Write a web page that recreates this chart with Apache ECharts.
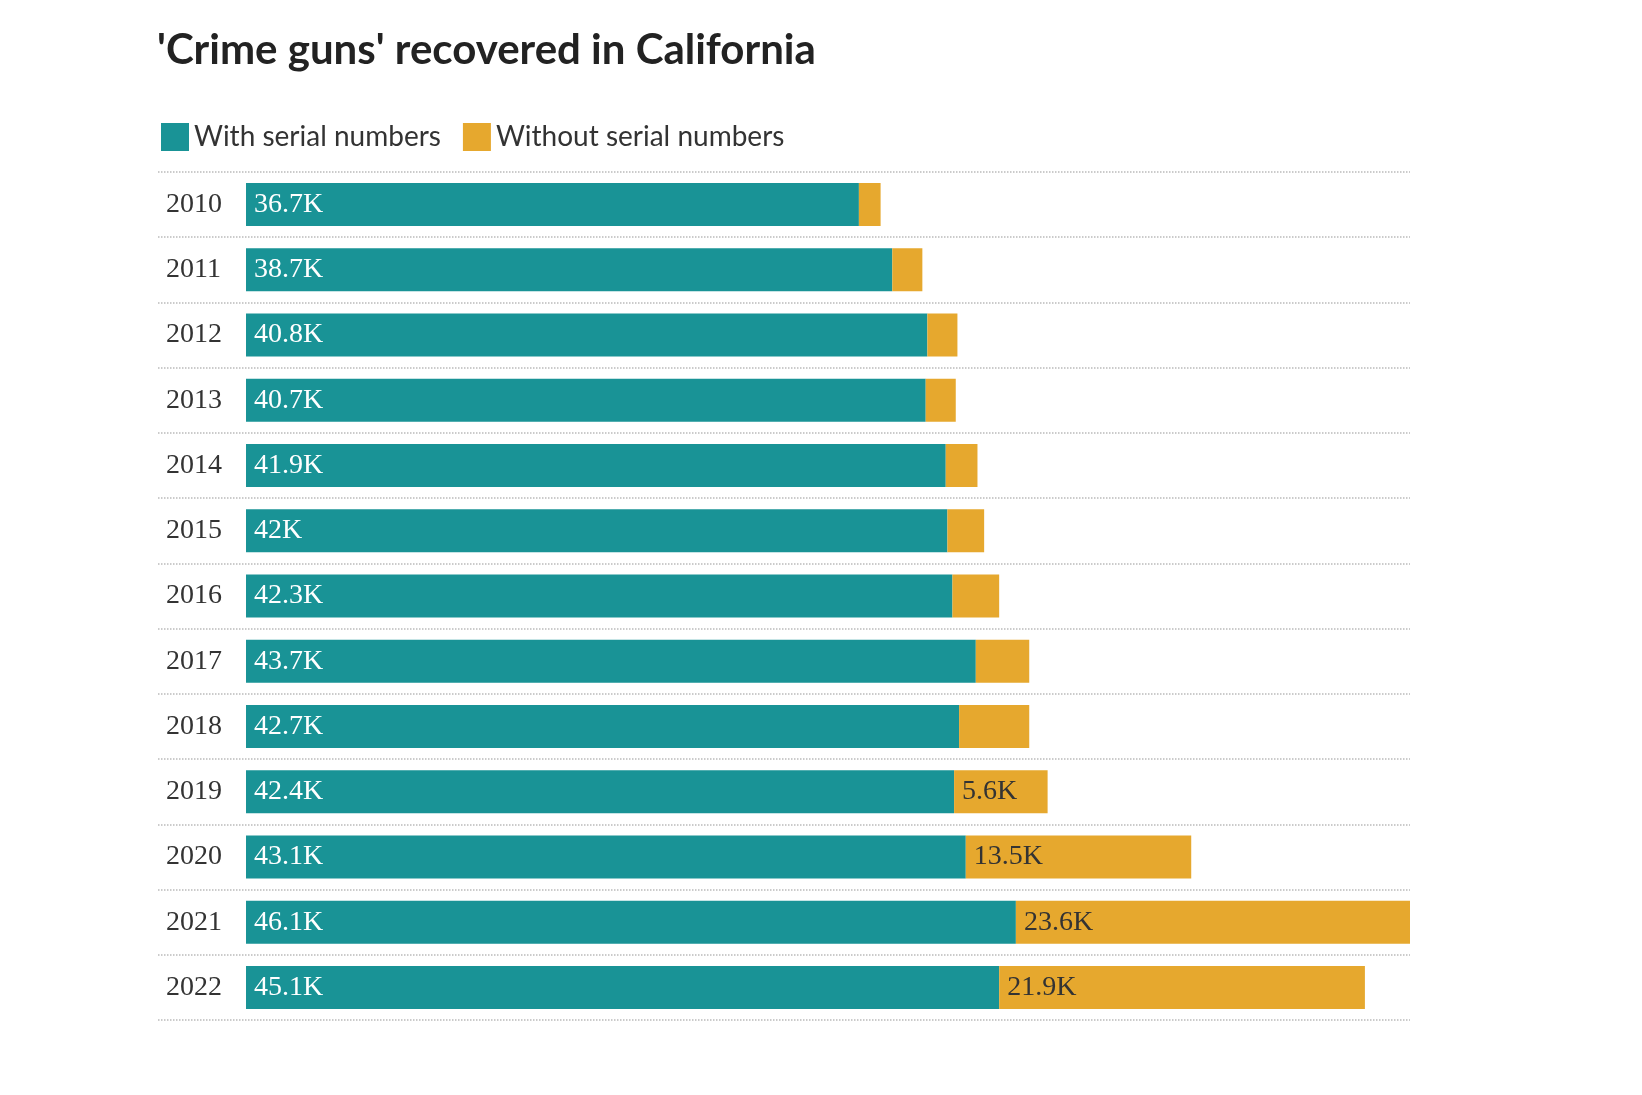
<!DOCTYPE html>
<html><head><meta charset="utf-8">
<script src="https://cdn.jsdelivr.net/npm/echarts@6/dist/echarts.min.js"></script>
<style>html,body{margin:0;background:#fff}#c{width:1642px;height:1095px}</style>
</head><body><div id="c"></div>
<script>
// crime guns recovered, thousands
const years = ['2010','2011','2012','2013','2014','2015','2016','2017','2018','2019','2020','2021','2022'];
const withSerial = [36.7, 38.7, 40.8, 40.7, 41.9, 42, 42.3, 43.7, 42.7, 42.4, 43.1, 46.1, 45.1];
const withoutSerial = [1.3, 1.8, 1.8, 1.8, 1.9, 2.2, 2.8, 3.2, 4.2, 5.6, 13.5, 23.6, 21.9];
const labelFrom = 9; // only the larger ghost-gun bars carry a label

const chart = echarts.init(document.getElementById('c'));
const serif = 'Liberation Serif';
chart.setOption({
	animation: false,
	title: {
		text: "'Crime guns' recovered in California",
		left: 152, top: 24,
		textStyle: { fontFamily: 'Lato', fontWeight: 'bold', fontSize: 42, color: '#222' }
	},
	legend: {
		left: 156, top: 118, itemWidth: 28, itemHeight: 28, itemGap: 22, icon: 'rect',
		textStyle: { fontFamily: 'Lato', fontSize: 28, color: '#333' }
	},
	grid: { left: 158, right: 232, top: 172, bottom: 75 },
	xAxis: { type: 'value', min: -5.27, max: 69.7, show: false },
	yAxis: {
		type: 'category', data: years, inverse: true,
		axisLine: { show: false }, axisTick: { show: false },
		axisLabel: { inside: true, fontFamily: serif, fontSize: 28, color: '#333' },
		splitLine: { show: true, lineStyle: { type: 'dotted', color: '#bbb', width: 1.5 } }
	},
	series: [
		{
			name: 'With serial numbers', type: 'bar', stack: 't', barWidth: 43,
			itemStyle: { color: '#199396' }, data: withSerial,
			label: { show: true, position: 'insideLeft', distance: 8, color: '#fff', fontFamily: serif, fontSize: 28,
				formatter: p => p.value + 'K' }
		},
		{
			name: 'Without serial numbers', type: 'bar', stack: 't', barWidth: 43,
			itemStyle: { color: '#e6a82e' }, data: withoutSerial,
			label: { show: true, position: 'insideLeft', distance: 8, color: '#333', fontFamily: serif, fontSize: 28,
				formatter: p => p.dataIndex >= labelFrom ? p.value + 'K' : '' }
		}
	]
});
</script></body></html>
